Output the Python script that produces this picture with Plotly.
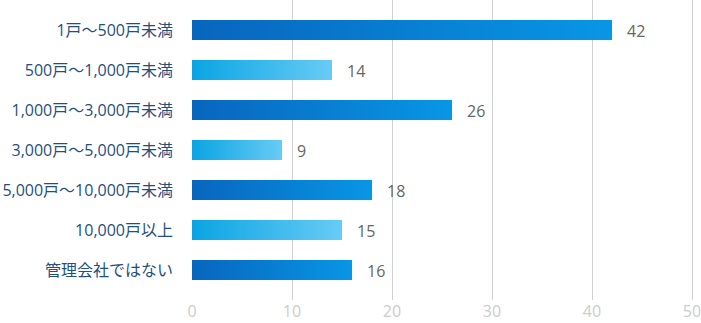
import plotly.graph_objects as go

# Households managed, by company size (top to bottom)
categories = [
    "1戸～500戸未満",
    "500戸～1,000戸未満",
    "1,000戸～3,000戸未満",
    "3,000戸～5,000戸未満",
    "5,000戸～10,000戸未満",
    "10,000戸以上",
    "管理会社ではない",
]
values = [42, 14, 26, 9, 18, 15, 16]
x_ticks = [0, 10, 20, 30, 40, 50]

DARK = [[0, "#0766bd"], [1, "#0896e5"]]
LIGHT = [[0, "#0aa4e4"], [1, "#68cbf5"]]
HALF = 0.25  # half bar thickness in category units

fig = go.Figure()
for i, v in enumerate(values):
    scale = DARK if i % 2 == 0 else LIGHT
    fig.add_trace(go.Scatter(
        x=[0, v, v, 0, 0],
        y=[i - HALF, i - HALF, i + HALF, i + HALF, i - HALF],
        mode="lines",
        line=dict(width=0),
        fill="toself",
        fillgradient=dict(type="horizontal", colorscale=scale),
        hoverinfo="skip",
        showlegend=False,
    ))
    fig.add_annotation(
        x=v, y=i, text=str(v), showarrow=False,
        xanchor="left", xshift=13, yshift=-1,
        font=dict(family="Open Sans, Noto Sans", size=16, color="#666666"),
    )

fig.update_layout(
    width=701, height=323,
    margin=dict(l=192, r=7, t=0, b=23),
    paper_bgcolor="white", plot_bgcolor="white",
    xaxis=dict(
        range=[0, 50.2], tickvals=x_ticks, showgrid=True,
        gridcolor="#d0d0d0", gridwidth=1, zeroline=False,
        showline=False, fixedrange=True, ticklabelstandoff=0,
        ticklabeloverflow="allow", automargin=False,
        tickfont=dict(family="Open Sans, Noto Sans", size=16, color="#cccccc"),
    ),
    yaxis=dict(
        range=[6.75, -0.75], tickvals=list(range(len(categories))),
        ticktext=categories, showgrid=False, zeroline=False,
        showline=False, ticklabelstandoff=18, fixedrange=True,
        automargin=False,
        tickfont=dict(family="Open Sans, Noto Sans CJK JP", size=16,
                      color="#1f5080"),
    ),
)

fig.write_html("out.html")
